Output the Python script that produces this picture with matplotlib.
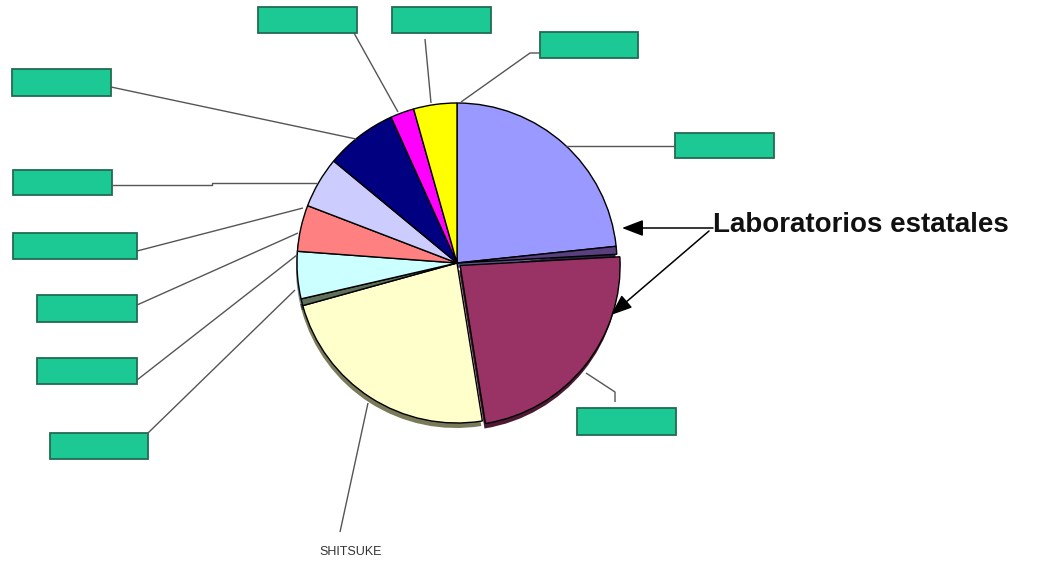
#!/usr/bin/env python3
"""Pie chart with empty green label boxes and a 'Laboratorios estatales' callout."""

import matplotlib
matplotlib.use("Agg")
import matplotlib.pyplot as plt
from matplotlib.patches import Rectangle

W, H = 1037, 569

# slice shares, clockwise from 12 o'clock
slices = ["periwinkle", "edge1", "maroon", "cream", "edge2",
          "cyan", "salmon", "lavender", "navy", "magenta", "yellow"]
shares = [23.5, 0.8, 23.5, 23.4, 0.7, 4.8, 4.7, 5.2, 7.3, 2.4, 4.4]
colors = ["#9999FF", "#5A3F7E", "#993366", "#FFFFCC", "#5F6F5A",
          "#CCFFFF", "#FF8080", "#CCCCFF", "#000080", "#FF00FF", "#FFFF00"]
shadow_colors = ["#55558A", "#2A2244", "#4D1A33", "#7A7A5A", "#3A4436",
                 "#6F8A8A", "#8A4444", "#6F6F8A", "#00003F", "#7F007F", "#8A8A00"]

callout_text = "Laboratorios estatales"
bottom_label = "SHITSUKE"

# layout (pixels, measured from top-left)
CENTER = (457, 263)
RADIUS = 160
# pie explode offsets are in data units here (pixels)
EXPLODE = [0, 0, 4, 0, 0, 0, 0, 0, 0, 0, 0]
boxes = [  # x0, y0, x1, y1
    (258, 7, 357, 33), (392, 7, 491, 33), (540, 32, 638, 58),
    (12, 69, 111, 96), (675, 133, 774, 158), (13, 170, 112, 195),
    (13, 233, 137, 259), (37, 295, 137, 322), (37, 358, 137, 384),
    (50, 433, 148, 459), (577, 408, 676, 435),
]
leaders = [
    [(354, 33), (398, 112)],
    [(425, 39), (431, 103)],
    [(540, 53), (530, 53), (461, 102)],
    [(111, 87), (356, 139)],
    [(675, 146), (566, 146)],
    [(112, 185), (212, 185), (212, 183), (317, 183)],
    [(137, 251), (303, 208)],
    [(137, 305), (298, 233)],
    [(137, 380), (297, 255)],
    [(148, 433), (295, 290)],
    [(615, 402), (615, 392), (586, 373)],
    [(368, 403), (340, 532)],
]


def Y(y):
    return H - y


def main() -> None:
    fig = plt.figure(figsize=(W / 100, H / 100), dpi=100)
    ax = fig.add_axes([0, 0, 1, 1])

    cx, cy = CENTER
    # 3d-ish rim under the pie
    ax.pie(shares, colors=shadow_colors, explode=EXPLODE, startangle=90,
           counterclock=False, center=(cx - 1, Y(cy) - 5), radius=RADIUS,
           frame=True, wedgeprops=dict(linewidth=0))
    ax.pie(shares, colors=colors, explode=EXPLODE, startangle=90,
           counterclock=False, center=(cx, Y(cy)), radius=RADIUS,
           frame=True, wedgeprops=dict(edgecolor="black", linewidth=1.0))

    for pts in leaders:
        xs = [p[0] for p in pts]
        ys = [Y(p[1]) for p in pts]
        ax.plot(xs, ys, color="#555555", lw=1.0, solid_capstyle="butt")

    for x0, y0, x1, y1 in boxes:
        ax.add_patch(Rectangle((x0, Y(y1)), x1 - x0, y1 - y0,
                               facecolor="#1CC894", edgecolor="#236B52", lw=1.3))

    ax.text(713, Y(225), callout_text, ha="left", va="center", fontsize=20,
            fontweight="bold", family="Liberation Sans", color="#111111")
    arrow = dict(arrowstyle="-|>,head_length=1.3,head_width=0.5",
                 color="black", lw=1.1, shrinkA=0, shrinkB=0)
    ax.annotate("", xy=(622, Y(228)), xytext=(713, Y(228)), arrowprops=arrow)
    ax.annotate("", xy=(611, Y(315)), xytext=(709, Y(231)), arrowprops=arrow)

    ax.text(351, Y(552), bottom_label, ha="center", va="center", fontsize=9,
            family="Liberation Sans", color="#333333")

    ax.set_aspect("auto")
    ax.set_xlim(0, W)
    ax.set_ylim(0, H)
    ax.axis("off")
    fig.savefig("out.png", dpi=100, facecolor="white")


if __name__ == "__main__":
    main()
